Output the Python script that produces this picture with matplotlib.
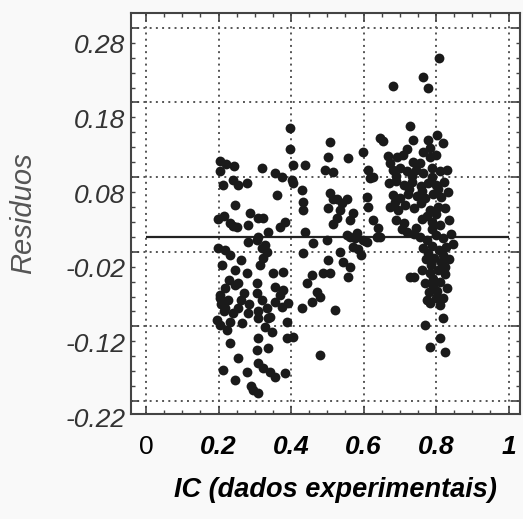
import matplotlib.pyplot as plt
from matplotlib.transforms import ScaledTranslation

plt.rcParams["font.family"] = ["Liberation Sans", "DejaVu Sans"]

# residual clusters, grouped by IC band
x_a = [0.205, 0.222, 0.242, 0.203, 0.213, 0.240, 0.254, 0.279, 0.245, 0.199, 0.232, 0.251,
       0.287, 0.281, 0.240, 0.215, 0.281, 0.199, 0.218, 0.232, 0.210, 0.245, 0.279, 0.262,
       0.218, 0.245, 0.204, 0.254, 0.230, 0.204, 0.218, 0.254, 0.281, 0.196, 0.204, 0.232,
       0.265, 0.223, 0.232, 0.254, 0.212, 0.279, 0.245, 0.295, 0.290, 0.207, 0.215, 0.225,
       0.240, 0.262, 0.270, 0.285]
y_a = [0.102, 0.097, 0.095, 0.088, 0.070, 0.076, 0.069, 0.072, 0.043, 0.024, 0.019, 0.013,
       0.032, 0.016, 0.014, 0.028, -0.007, -0.015, -0.018, -0.024, -0.038, -0.044, -0.048, -0.031,
       -0.069, -0.064, -0.078, -0.062, -0.058, -0.082, -0.095, -0.095, -0.102, -0.111, -0.118, -0.114,
       -0.115, -0.125, -0.142, -0.162, -0.178, -0.181, -0.192, -0.205, -0.200, -0.090, -0.100, -0.085,
       -0.102, -0.085, -0.075, -0.090]

x_b = [0.397, 0.397, 0.320, 0.356, 0.375, 0.405, 0.439, 0.403, 0.430, 0.361, 0.405, 0.433,
       0.433, 0.309, 0.323, 0.383, 0.370, 0.337, 0.309, 0.439, 0.306, 0.328, 0.320, 0.334,
       0.323, 0.315, 0.433, 0.350, 0.378, 0.306, 0.306, 0.356, 0.370, 0.309, 0.309, 0.337,
       0.328, 0.348, 0.356, 0.375, 0.389, 0.405, 0.309, 0.337, 0.306, 0.309, 0.323, 0.342,
       0.356, 0.383, 0.309, 0.378, 0.392, 0.389, 0.320, 0.334, 0.342]
y_b = [0.146, 0.118, 0.092, 0.086, 0.080, 0.096, 0.096, 0.076, 0.063, 0.056, 0.072, 0.047,
       0.036, 0.025, 0.025, 0.020, 0.013, 0.007, 0.000, 0.007, -0.004, -0.011, -0.015, -0.020,
       -0.028, -0.038, -0.022, -0.048, -0.047, -0.062, -0.075, -0.067, -0.078, -0.100, -0.109, -0.109,
       -0.121, -0.127, -0.087, -0.094, -0.114, -0.134, -0.135, -0.149, -0.152, -0.169, -0.176, -0.181,
       -0.188, -0.182, -0.209, -0.071, -0.089, -0.136, -0.085, -0.095, -0.107]

x_c = [0.508, 0.502, 0.557, 0.599, 0.494, 0.516, 0.612, 0.626, 0.618, 0.645, 0.654, 0.508,
       0.516, 0.502, 0.535, 0.554, 0.527, 0.563, 0.516, 0.571, 0.610, 0.612, 0.626, 0.640,
       0.563, 0.582, 0.599, 0.637, 0.554, 0.577, 0.610, 0.645, 0.499, 0.460, 0.535, 0.571,
       0.585, 0.543, 0.563, 0.557, 0.508, 0.502, 0.488, 0.458, 0.444, 0.472, 0.458, 0.430,
       0.480, 0.521, 0.480, 0.592, 0.527, 0.540]
y_c = [0.127, 0.107, 0.106, 0.114, 0.090, 0.087, 0.090, 0.080, 0.079, 0.133, 0.129, 0.059,
       0.050, 0.039, 0.036, 0.050, 0.025, 0.023, 0.017, 0.032, 0.054, 0.040, 0.023, 0.012,
       0.000, 0.005, -0.004, 0.000, 0.003, -0.002, -0.007, 0.000, -0.004, -0.008, -0.020, -0.013,
       -0.016, -0.034, -0.040, -0.054, -0.048, -0.031, -0.048, -0.051, -0.062, -0.074, -0.087, -0.095,
       -0.081, -0.098, -0.158, -0.025, 0.050, 0.045]

x_d = [0.808, 0.680, 0.765, 0.778, 0.728, 0.737, 0.778, 0.803, 0.819, 0.783,
       0.667, 0.692, 0.709, 0.737, 0.756, 0.783, 0.673, 0.800, 0.720, 0.765,
       0.680, 0.700, 0.720, 0.745, 0.765, 0.790, 0.812, 0.830, 0.690, 0.735,
       0.670, 0.690, 0.712, 0.735, 0.758, 0.778, 0.800, 0.822, 0.725, 0.790,
       0.680, 0.700, 0.722, 0.748, 0.770, 0.792, 0.815, 0.834, 0.760, 0.805,
       0.672, 0.695, 0.715, 0.738, 0.782, 0.805, 0.825, 0.758, 0.688,
       0.690, 0.712, 0.760, 0.790, 0.812, 0.835, 0.745, 0.800, 0.775,
       0.720, 0.755, 0.775, 0.800, 0.820, 0.842, 0.705, 0.738, 0.790,
       0.765, 0.788, 0.808, 0.828, 0.848, 0.778, 0.818,
       0.772, 0.795, 0.815, 0.835, 0.785, 0.825,
       0.760, 0.782, 0.805, 0.825, 0.728, 0.740, 0.793,
       0.770, 0.792, 0.812, 0.830, 0.780, 0.802,
       0.775, 0.800, 0.820, 0.783, 0.810,
       0.820, 0.770, 0.810, 0.783, 0.825]
y_d = [0.240, 0.202, 0.214, 0.200, 0.149, 0.130, 0.130, 0.137, 0.126, 0.119,
       0.108, 0.107, 0.110, 0.100, 0.099, 0.107, 0.099, 0.110, 0.118, 0.114,
       0.090, 0.092, 0.088, 0.090, 0.086, 0.092, 0.088, 0.090, 0.082, 0.082,
       0.072, 0.075, 0.070, 0.074, 0.068, 0.072, 0.070, 0.074, 0.064, 0.080,
       0.056, 0.052, 0.058, 0.055, 0.052, 0.058, 0.054, 0.060, 0.062, 0.064,
       0.040, 0.036, 0.042, 0.038, 0.036, 0.040, 0.038, 0.045, 0.046,
       0.022, 0.018, 0.024, 0.020, 0.016, 0.022, 0.012, 0.030, 0.028,
       0.006, 0.000, -0.004, 0.002, -0.002, 0.004, 0.010, 0.004, 0.010,
       -0.015, -0.012, -0.018, -0.014, -0.010, -0.022, -0.024,
       -0.030, -0.028, -0.034, -0.030, -0.038, -0.040,
       -0.045, -0.048, -0.044, -0.050, -0.054, -0.054, -0.056,
       -0.062, -0.066, -0.060, -0.068, -0.074, -0.073,
       -0.085, -0.082, -0.082, -0.089, -0.092,
       -0.109, -0.118, -0.135, -0.147, -0.154]

x_ticks = [0, 0.2, 0.4, 0.6, 0.8, 1]
x_ticklabels = ["0", "0.2", "0.4", "0.6", "0.8", "1"]
y_ticks = [0.28, 0.18, 0.08, -0.02, -0.12, -0.22]
y_ticklabels = ["0.28", "0.18", "0.08", "-0.02", "-0.12", "-0.22"]


def main():
    fig = plt.figure(figsize=(5.23, 5.19), dpi=100, facecolor="#f9f9f9")
    ax = fig.add_axes([0.2505, 0.2023, 0.7438, 0.7727])

    for xs, ys in [(x_a, y_a), (x_b, y_b), (x_c, y_c), (x_d, y_d)]:
        ax.scatter(xs, ys, s=50, color="#1a1a1a", linewidths=0, zorder=3)

    ax.hlines(0, x_ticks[0], x_ticks[-1], color="#222222", lw=1.6, zorder=2)

    ax.set_xlim(-0.0414, 1.0317)
    ax.set_ylim(-0.2374, 0.2999)
    ax.set_xticks(x_ticks)
    ax.set_yticks(y_ticks)
    ax.set_xticks([t / 20 for t in range(0, 21)], minor=True)
    ax.set_yticks([-0.22 + t * 0.02 for t in range(0, 26)], minor=True)
    ax.grid(True, which="major", color="#555555", lw=1.4, linestyle=(0, (1, 2.2)))

    ax.tick_params(which="both", direction="in", top=True, right=True, color="#444444")
    ax.tick_params(which="major", length=6, width=1.2)
    ax.tick_params(which="minor", length=3, width=1)
    ax.tick_params(axis="x", which="major", pad=15)
    ax.tick_params(axis="y", which="major", pad=4)
    for sp in ax.spines.values():
        sp.set_color("#444444")
        sp.set_linewidth(1.5)

    ax.set_xticklabels(x_ticklabels, fontsize=19, fontweight="bold", fontstyle="italic")
    labels = ax.get_xticklabels()
    labels[0].set_fontweight("normal")
    labels[0].set_fontstyle("normal")

    ax.set_yticklabels(y_ticklabels, fontsize=19, fontstyle="italic", color="#333333")
    shift = ScaledTranslation(0, -0.16, fig.dpi_scale_trans)
    for lab in ax.get_yticklabels():
        lab.set_transform(lab.get_transform() + shift)

    ax.set_xlabel("IC (dados experimentais)", fontsize=19.5, fontweight="bold",
                  fontstyle="italic", va="center")
    ax.xaxis.set_label_coords(0.525, -0.19)
    ax.set_ylabel("Residuos", fontsize=21, fontstyle="italic", color="#555555", va="center")
    ax.yaxis.set_label_coords(-0.278, 0.501)

    fig.savefig("out.png", dpi=100, facecolor=fig.get_facecolor())


if __name__ == "__main__":
    main()
